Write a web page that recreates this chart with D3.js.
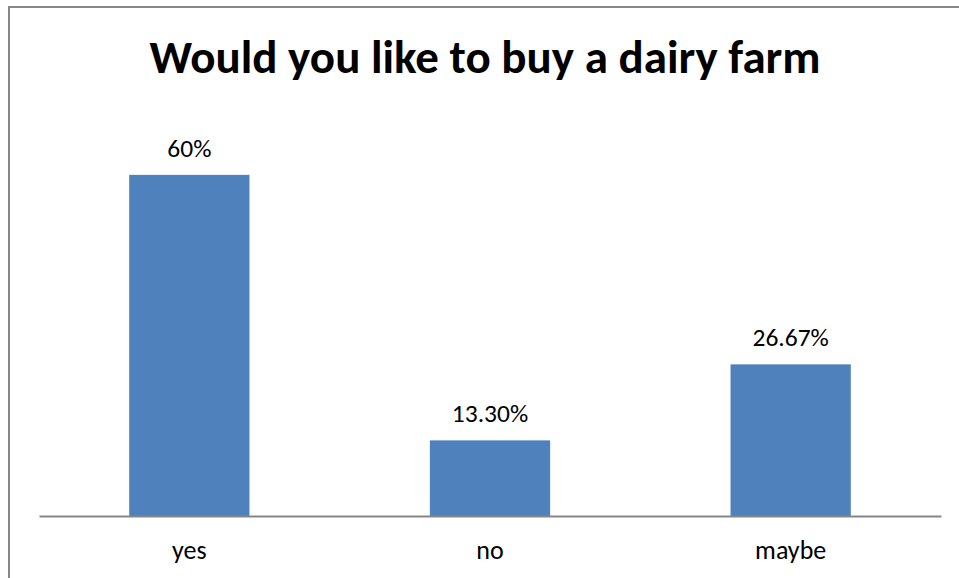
<!DOCTYPE html>
<html lang="en">
    <head>
        <meta charset="utf-8">
        <title>Would you like to buy a dairy farm</title>
        <script type="text/javascript" src="https://cdn.jsdelivr.net/npm/d3@7"></script>
        <style>
            body { margin: 0; background: #fff; }
            text { font-family: Calibri, Carlito, Lato, sans-serif; fill: #000; }
        </style>
    </head>

    <body>
        <script type="text/javascript">

            var categories = ["yes", "no", "maybe"];
            var values = [60, 13.3, 26.67];           // percent
            var valueLabels = ["60%", "13.30%", "26.67%"];
            var title = "Would you like to buy a dairy farm";

            var w = 959, h = 578;
            var svg = d3.select("body").append("svg").attr("width", w).attr("height", h);

            // chart border (runs off the right and bottom edge)
            svg.append("rect")
                .attr("x", 9).attr("y", 7)
                .attr("width", 1000).attr("height", 1000)
                .attr("fill", "none")
                .attr("stroke", "#878787")
                .attr("stroke-width", 2);

            var x = d3.scaleBand().domain(categories).range([39, 941]).paddingInner(0.6).paddingOuter(0.3);
            var y = d3.scaleLinear().domain([0, 70]).range([516, 118]);

            svg.selectAll("rect.bar")
                .data(values)
                .enter()
                .append("rect")
                .attr("class", "bar")
                .attr("x", function(d, i) { return x(categories[i]); })
                .attr("y", function(d) { return y(d); })
                .attr("width", x.bandwidth())
                .attr("height", function(d) { return y(0) - y(d); })
                .attr("fill", "#4F81BD");

            // value labels above bars
            svg.selectAll("text.val")
                .data(values)
                .enter()
                .append("text")
                .attr("class", "val")
                .attr("x", function(d, i) { return x(categories[i]) + x.bandwidth() / 2; })
                .attr("y", function(d) { return y(d) - 18; })
                .attr("text-anchor", "middle")
                .style("font-size", "25.5px")
                .text(function(d, i) { return valueLabels[i]; });

            // x axis
            var xAxis = d3.axisBottom(x).tickSize(0);
            var gx = svg.append("g").attr("transform", "translate(0," + y(0) + ")").call(xAxis);
            gx.select(".domain").attr("stroke", "#868686").attr("stroke-width", 2);
            gx.selectAll(".tick text")
                .style("font-size", "26px")
                .attr("dy", null)
                .attr("y", 43);

            // title
            svg.append("text")
                .attr("x", 485)
                .attr("y", 73)
                .attr("text-anchor", "middle")
                .style("font-size", "47px")
                .style("font-weight", "bold")
                .text(title);

        </script>
    </body>
</html>
